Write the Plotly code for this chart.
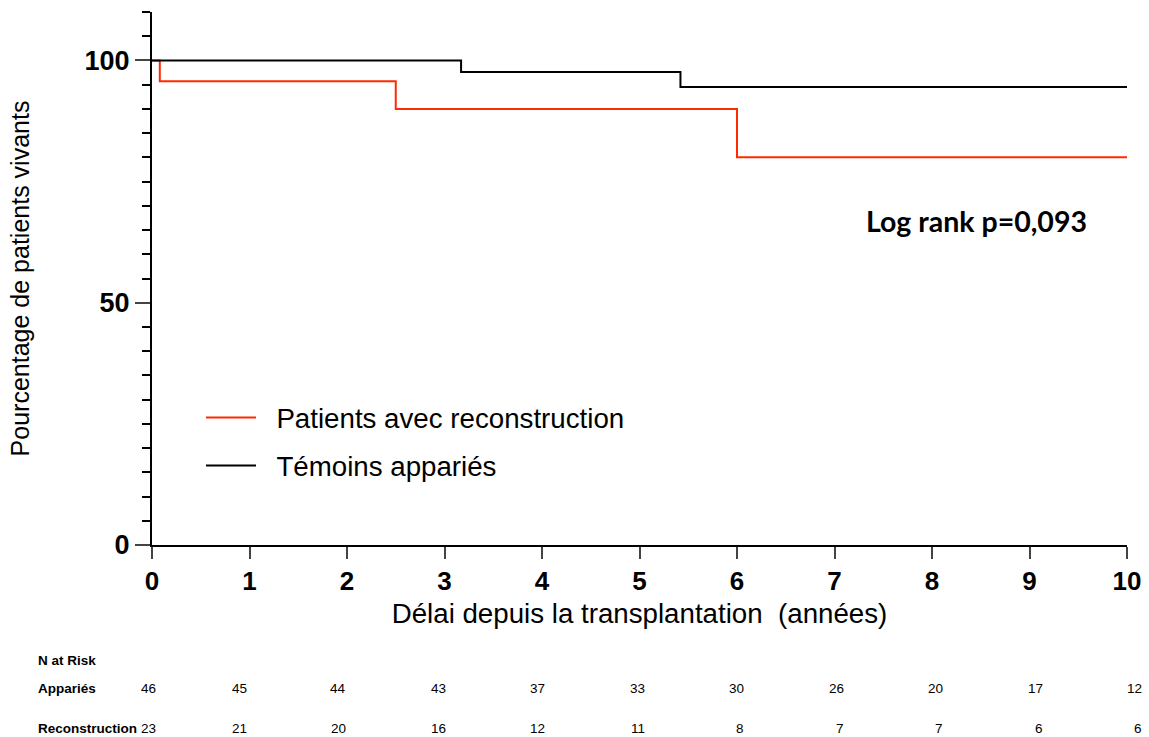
import plotly.graph_objects as go

# ---- data ----
years_ticks = list(range(0, 11))
recon_time = [0, 0.08, 2.5, 6.0, 10]
recon_surv = [100, 95.7, 90.0, 80.0, 80.0]
temoin_time = [0, 3.17, 5.42, 10]
temoin_surv = [100, 97.6, 94.5, 94.5]
risk_appar = [46, 45, 44, 43, 37, 33, 30, 26, 20, 17, 12]
risk_recon = [23, 21, 20, 16, 12, 11, 8, 7, 7, 6, 6]
risk_labels = ["Appariés", "Reconstruction"]

W, H = 1149, 737
ML, MR, MT, MB = 152, 22, 12, 192
PW, PH = W - ML - MR, H - MT - MB

def px_x(px):
    return (px - ML) / PW

def px_y(py):
    return (H - MB - py) / PH

RED = "#ff2a00"
PAD = "\u00a0\u00a0"

fig = go.Figure()
fig.add_trace(go.Scatter(x=recon_time, y=recon_surv, mode="lines", line_shape="hv",
                         line=dict(color=RED, width=2), name=PAD + "Patients avec reconstruction",
                         legendgroup="a"))
fig.add_trace(go.Scatter(x=temoin_time, y=temoin_surv, mode="lines", line_shape="hv",
                         line=dict(color="black", width=2), name=PAD + "Témoins appariés",
                         legendgroup="b"))

fig.update_layout(
    width=W, height=H,
    margin=dict(l=ML, r=MR, t=MT, b=MB, autoexpand=False),
    paper_bgcolor="white", plot_bgcolor="white",
    font=dict(family="Liberation Sans, Arial, sans-serif", color="black"),
    showlegend=True,
    legend=dict(x=px_x(201), y=px_y(393), xanchor="left", yanchor="top",
                font=dict(size=27.7, color="black"), bgcolor="rgba(0,0,0,0)",
                tracegroupgap=9, itemwidth=50),
    xaxis=dict(range=[0, 10], tickvals=years_ticks, ticks="outside", ticklen=12, tickwidth=2,
               showline=True, linewidth=2, linecolor="black", showgrid=False, zeroline=False,
               automargin=False,
               tickfont=dict(size=26, family="Liberation Sans, Arial", color="black", weight="bold"),
               title=dict(text="Délai depuis la transplantation  (années)",
                          font=dict(size=27.7, color="black"), standoff=8)),
    yaxis=dict(range=[0, 110], tickvals=[0, 50, 100], ticks="outside", ticklen=15, tickwidth=2,
               showline=True, linewidth=2, linecolor="black", showgrid=False, zeroline=False,
               automargin=False,
               tickfont=dict(size=27, family="Liberation Sans, Arial", color="black", weight="bold"),
               minor=dict(dtick=5, ticks="outside", ticklen=8, tickwidth=2, tickcolor="black",
                          showgrid=False),
               title=dict(text="Pourcentage de patients vivants",
                          font=dict(size=25, color="black"), standoff=48)),
)

ann = []
ann.append(dict(text="<b>Log rank p=0,093</b>", x=px_x(976), y=px_y(221), xref="paper", yref="paper",
                showarrow=False, font=dict(size=28.5, family="Lato", color="black"),
                xanchor="center", yanchor="middle"))

small = 13.5
ann.append(dict(text="<b>N at Risk</b>", x=px_x(36), y=px_y(660), xref="paper", yref="paper",
                showarrow=False, xanchor="left", yanchor="middle", font=dict(size=small)))
for lab, py in zip(risk_labels, [688, 728]):
    ann.append(dict(text="<b>" + lab + "</b>", x=px_x(36), y=px_y(py), xref="paper", yref="paper",
                    showarrow=False, xanchor="left", yanchor="middle", font=dict(size=small)))

def risk_right_edge(i):
    return 158 if i == 0 else 149 + 99.5 * i

for vals, py in zip([risk_appar, risk_recon], [688, 728]):
    for i, v in enumerate(vals):
        ann.append(dict(text=str(v), x=px_x(risk_right_edge(i)), y=px_y(py), xref="paper",
                        yref="paper", showarrow=False, xanchor="right", yanchor="middle",
                        font=dict(size=small)))

fig.update_layout(annotations=ann)
fig.write_html("out.html", config={"displayModeBar": False},
               post_script="document.body.style.margin='0';document.body.style.overflow='hidden';")
